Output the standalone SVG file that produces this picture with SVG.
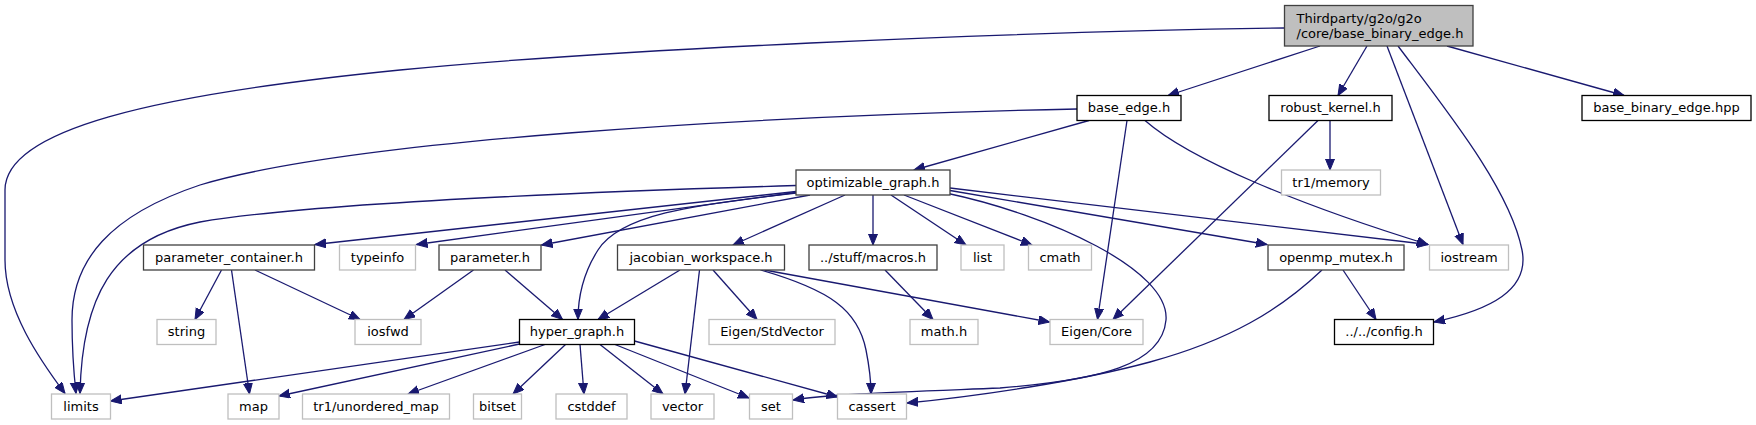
<svg xmlns="http://www.w3.org/2000/svg" width="1756" height="425" viewBox="0 0 1756 425">
<style>
.n rect{fill:#fff;stroke:#000;stroke-width:1.3}
.n.d rect{stroke:#404040}
.n.g rect{stroke:#bfbfbf}
.n.root rect{fill:#bfbfbf;stroke:#404040}
.n text{font-family:"DejaVu Sans","Liberation Sans",sans-serif;font-size:13px;fill:#000;text-anchor:middle}
.n.root text{text-anchor:start}
.e path{fill:none;stroke:#191970;stroke-width:1.3;marker-end:url(#a)}
</style>
<defs>
<marker id="a" markerWidth="12" markerHeight="10" refX="11" refY="4.5" orient="auto" markerUnits="userSpaceOnUse">
<path d="M0,0 L11,4.5 L0,9 z" fill="#191970" stroke="#191970" stroke-width="1"/>
</marker>
</defs>
<rect width="1756" height="425" fill="#fff"/>
<g class="e" id="edges">
<path d="M1284.5,28 C1000,32 600,50 400,70 C150,95 5,130 5,190 L5,260 C5,310 40,360 65,393.5"/>
<path d="M1320,46 L1168,95.5"/>
<path d="M1367,46 L1338,95.5"/>
<path d="M1387,46 L1463,244.5"/>
<path d="M1398,46 C1450,115 1510,190 1522,250 C1530,290 1490,310 1434,322"/>
<path d="M1447,46 L1624,95.5"/>
<path d="M1077,109 C750,116 350,140 200,185 C110,215 72,260 72,320 C72,350 74,375 76,393.5"/>
<path d="M1089,120.5 L914,170"/>
<path d="M1127,120.5 L1097.5,319.5"/>
<path d="M1145,120.5 C1190,160 1300,205 1428,244.5"/>
<path d="M1330,120.5 L1330,170"/>
<path d="M1318,120.5 L1113,319.5"/>
<path d="M796,185.5 C550,193 300,205 200,222 C110,240 82,300 80,393.5"/>
<path d="M796,191.5 L315,244.5"/>
<path d="M796,192.5 L416.5,244.5"/>
<path d="M810,195 L541.5,245"/>
<path d="M796,193 C690,205 620,215 598,250 C582,275 578,300 578,319.5"/>
<path d="M845,195 L733,245"/>
<path d="M873,195 L873,245"/>
<path d="M891,195 L966,245"/>
<path d="M904,195 L1032,245"/>
<path d="M950,190.5 L1267,244.5"/>
<path d="M950,188 L1428,244.5"/>
<path d="M946,193 C1050,215 1170,270 1166,320 C1162,365 1100,380 1000,388 C900,392 830,394 793,400"/>
<path d="M221.5,270 L195,319.5"/>
<path d="M231.5,270 L249.5,394"/>
<path d="M255,270 L360,319.5"/>
<path d="M473.5,270 L404,319.5"/>
<path d="M505,270 L562.5,319.5"/>
<path d="M519.5,342 L110.5,401"/>
<path d="M519.5,344 L279,396"/>
<path d="M545,344.5 L408,394"/>
<path d="M565.5,344.5 L513,394"/>
<path d="M580,344.5 L584,394"/>
<path d="M600,344.5 L663,394"/>
<path d="M615,344.5 L749,398"/>
<path d="M634.5,341 L837.5,397"/>
<path d="M680,270 L598,319.5"/>
<path d="M699.5,270 L685,394"/>
<path d="M713,270 L757,319.5"/>
<path d="M760.5,270 C830,290 858,310 866,350 C869,365 871,380 871,394"/>
<path d="M764.5,270 L1049.5,322"/>
<path d="M885,270 L933,319.5"/>
<path d="M1343,270 L1376,319.5"/>
<path d="M1322,270 C1280,310 1230,340 1150,362 C1080,381 980,396 907,403"/>
</g>
<g class="n root" id="node-root"><rect x="1284.5" y="5.5" width="188.5" height="40.5"/><text x="1296.5" y="23">Thirdparty/g2o/g2o</text><text x="1296.5" y="38">/core/base_binary_edge.h</text></g>
<g class="n" id="node-base_edge"><rect x="1077" y="95.5" width="104" height="25"/><text x="1129" y="112">base_edge.h</text></g>
<g class="n" id="node-robust_kernel"><rect x="1269" y="95.5" width="123" height="25"/><text x="1330.5" y="112">robust_kernel.h</text></g>
<g class="n" id="node-base_binary_edge_hpp"><rect x="1582" y="95.5" width="169" height="25"/><text x="1666.5" y="112">base_binary_edge.hpp</text></g>
<g class="n d" id="node-optimizable_graph"><rect x="796" y="170" width="154" height="25"/><text x="873" y="186.5">optimizable_graph.h</text></g>
<g class="n g" id="node-tr1_memory"><rect x="1281.5" y="170" width="99" height="25"/><text x="1331" y="186.5">tr1/memory</text></g>
<g class="n d" id="node-parameter_container"><rect x="143.5" y="245" width="171" height="25"/><text x="229" y="261.5">parameter_container.h</text></g>
<g class="n g" id="node-typeinfo"><rect x="339.5" y="245" width="76" height="25"/><text x="377.5" y="261.5">typeinfo</text></g>
<g class="n d" id="node-parameter"><rect x="439" y="245" width="102" height="25"/><text x="490" y="261.5">parameter.h</text></g>
<g class="n d" id="node-jacobian_workspace"><rect x="617.5" y="245" width="167" height="25"/><text x="701" y="261.5">jacobian_workspace.h</text></g>
<g class="n d" id="node-macros"><rect x="809" y="245" width="128" height="25"/><text x="873" y="261.5">../stuff/macros.h</text></g>
<g class="n g" id="node-list"><rect x="961" y="245" width="43" height="25"/><text x="982.5" y="261.5">list</text></g>
<g class="n g" id="node-cmath"><rect x="1028.5" y="245" width="63" height="25"/><text x="1060" y="261.5">cmath</text></g>
<g class="n d" id="node-openmp_mutex"><rect x="1268" y="245" width="136" height="25"/><text x="1336" y="261.5">openmp_mutex.h</text></g>
<g class="n g" id="node-iostream"><rect x="1429.5" y="245" width="79" height="25"/><text x="1469" y="261.5">iostream</text></g>
<g class="n g" id="node-string"><rect x="157" y="319.5" width="59" height="25"/><text x="186.5" y="336">string</text></g>
<g class="n g" id="node-iosfwd"><rect x="355" y="319.5" width="66" height="25"/><text x="388" y="336">iosfwd</text></g>
<g class="n" id="node-hyper_graph"><rect x="519.5" y="319.5" width="115" height="25"/><text x="577" y="336">hyper_graph.h</text></g>
<g class="n g" id="node-eigen_stdvector"><rect x="709" y="319.5" width="126" height="25"/><text x="772" y="336">Eigen/StdVector</text></g>
<g class="n g" id="node-math"><rect x="910" y="319.5" width="68" height="25"/><text x="944" y="336">math.h</text></g>
<g class="n g" id="node-eigen_core"><rect x="1050" y="319.5" width="93" height="25"/><text x="1096.5" y="336">Eigen/Core</text></g>
<g class="n" id="node-config"><rect x="1334.5" y="319.5" width="99" height="25"/><text x="1384" y="336">../../config.h</text></g>
<g class="n g" id="node-limits"><rect x="51.5" y="394" width="59" height="25"/><text x="81" y="410.5">limits</text></g>
<g class="n g" id="node-map"><rect x="228" y="394" width="51" height="25"/><text x="253.5" y="410.5">map</text></g>
<g class="n g" id="node-tr1_unordered_map"><rect x="302.5" y="394" width="147" height="25"/><text x="376" y="410.5">tr1/unordered_map</text></g>
<g class="n g" id="node-bitset"><rect x="473.5" y="394" width="48" height="25"/><text x="497.5" y="410.5">bitset</text></g>
<g class="n g" id="node-cstddef"><rect x="556" y="394" width="71" height="25"/><text x="591.5" y="410.5">cstddef</text></g>
<g class="n g" id="node-vector"><rect x="651" y="394" width="63" height="25"/><text x="682.5" y="410.5">vector</text></g>
<g class="n g" id="node-set"><rect x="749.5" y="394" width="43" height="25"/><text x="771" y="410.5">set</text></g>
<g class="n g" id="node-cassert"><rect x="837.5" y="394" width="69" height="25"/><text x="872" y="410.5">cassert</text></g>
</svg>
